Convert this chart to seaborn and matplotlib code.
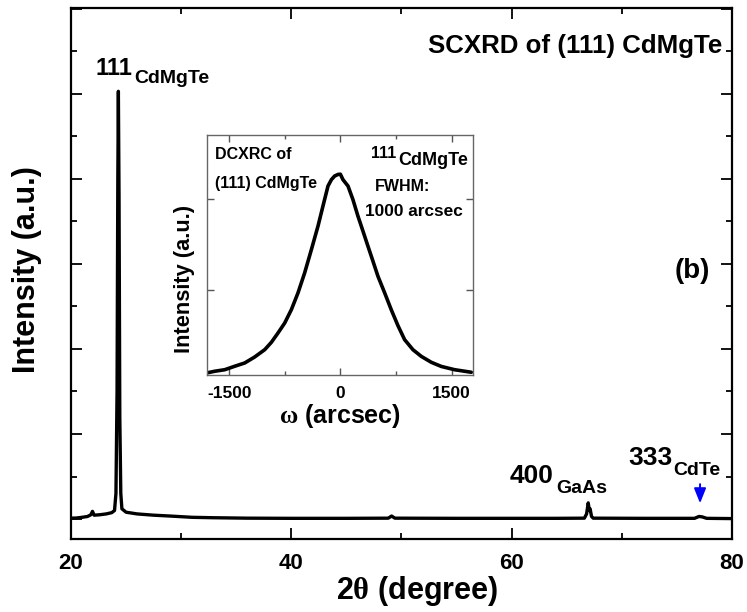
import matplotlib
matplotlib.use("Agg")
import matplotlib.pyplot as plt
import seaborn as sns
import pandas as pd

# Symmetric 2theta scan of the (111) CdMgTe layer (intensity in arbitrary units)
two_theta = [20.0, 20.5, 21.0, 21.5, 21.8, 21.95, 22.1, 22.6, 23.2, 23.7, 23.95,
             24.08, 24.18, 24.25, 24.30, 24.36, 24.43, 24.52, 24.62, 25.0, 26.0,
             27.5, 29.0, 31.0, 33.0, 36.0, 40.0, 45.0, 48.8, 49.1, 49.4, 55.0,
             60.0, 64.0, 66.6, 66.8, 66.95, 67.05, 67.12, 67.25, 67.4, 72.0,
             76.6, 77.0, 77.3, 77.7, 80.0]
intensity = [0.010, 0.012, 0.020, 0.030, 0.050, 0.090, 0.045, 0.050, 0.060, 0.075, 0.10,
             0.30, 1.50, 4.00, 5.03, 3.80, 1.20, 0.30, 0.12, 0.080, 0.060,
             0.045, 0.035, 0.020, 0.015, 0.010, 0.008, 0.008, 0.010, 0.035, 0.010, 0.008,
             0.008, 0.008, 0.010, 0.060, 0.19, 0.10, 0.12, 0.030, 0.010, 0.008,
             0.008, 0.030, 0.025, 0.008, 0.005]

# Double-crystal rocking curve of the 111 reflection
omega = [-1808, -1696, -1561, -1426, -1291, -1156, -1021, -931, -842, -751, -661,
         -572, -482, -391, -302, -235, -167, -121, -77, -32, 0, 35, 103, 170,
         237, 305, 372, 440, 507, 598, 688, 777, 867, 979, 1093, 1228, 1362,
         1542, 1767]
rc_intensity = [0.088, 0.107, 0.124, 0.162, 0.198, 0.264, 0.344, 0.425, 0.527, 0.637, 0.784,
                0.967, 1.187, 1.443, 1.70, 1.92, 2.14, 2.21, 2.25, 2.267, 2.27, 2.21, 2.14, 1.99,
                1.81, 1.645, 1.48, 1.315, 1.15, 0.967, 0.78, 0.608, 0.454, 0.344, 0.27, 0.205, 0.16,
                0.124, 0.096]

scan = pd.DataFrame({"two_theta": two_theta, "intensity": intensity})
rock = pd.DataFrame({"omega": omega, "intensity": rc_intensity})

sns.set_theme(style="ticks")
plt.rcParams["font.family"] = ["Liberation Sans", "DejaVu Sans"]
plt.rcParams["font.weight"] = "bold"
plt.rcParams["text.color"] = "black"
plt.rcParams["axes.labelcolor"] = "black"
plt.rcParams["xtick.color"] = "black"
plt.rcParams["ytick.color"] = "black"
plt.rcParams["axes.unicode_minus"] = False
plt.rcParams["mathtext.fontset"] = "custom"
plt.rcParams["mathtext.rm"] = "Liberation Serif"
plt.rcParams["mathtext.it"] = "Liberation Serif"
plt.rcParams["mathtext.bf"] = "Liberation Serif:bold"

fig = plt.figure(figsize=(7.47, 6.12), dpi=100)
ax = fig.add_axes([71 / 747, 73 / 612, 661 / 747, 531 / 612])

sns.lineplot(data=scan, x="two_theta", y="intensity", ax=ax, color="black",
             linewidth=2.4, estimator=None, sort=False)

ax.set_xlim(20, 80)
ax.set_ylim(-0.235, 6.01)
ax.set_xticks([20, 40, 60, 80])
ax.set_xticks([30, 50, 70], minor=True)
ax.set_yticks([0, 1, 2, 3, 4, 5, 6])
ax.set_yticks([0.5, 1.5, 2.5, 3.5, 4.5, 5.5], minor=True)
ax.set_yticklabels([])
ax.tick_params(which="both", direction="in", top=True, right=True, width=1.3,
               color="black", labelsize=16, pad=10)
ax.tick_params(which="major", length=8)
ax.tick_params(which="minor", length=4.5)
for lab in ax.get_xticklabels():
    lab.set_fontweight("bold")
for sp in ax.spines.values():
    sp.set_linewidth(1.6)
    sp.set_color("black")

ax.set_xlabel(r"2$\theta$ (degree)", fontsize=22, fontweight="bold")
ax.set_ylabel("Intensity (a.u.)", fontsize=22, fontweight="bold")
ax.xaxis.set_label_coords(0.524, -0.066)
ax.yaxis.set_label_coords(-0.044, 0.507)

# Peak labels
ax.text(22.18, 5.22, "111", fontsize=17, fontweight="bold", va="baseline")
ax.text(25.75, 5.126, "CdMgTe", fontsize=14, fontweight="bold", va="baseline")
ax.text(59.85, 0.420, "400", fontsize=19, fontweight="bold", va="baseline")
ax.text(64.09, 0.309, "GaAs", fontsize=14, fontweight="bold", va="baseline")
ax.text(70.59, 0.635, "333", fontsize=19, fontweight="bold", va="baseline")
ax.text(74.67, 0.518, "CdTe", fontsize=14, fontweight="bold", va="baseline")
ax.text(0.985, 0.915, "SCXRD of (111) CdMgTe", transform=ax.transAxes,
        fontsize=18.6, fontweight="bold", ha="right", va="baseline")
ax.text(0.967, 0.4915, "(b)", transform=ax.transAxes, fontsize=20,
        fontweight="bold", ha="right", va="baseline")

# Arrow marking the weak CdTe 333 reflection
ax.annotate("", xy=(77.1, 0.185), xytext=(77.1, 0.41),
            arrowprops=dict(arrowstyle="-|>,head_length=0.75,head_width=0.3",
                            color="#0000ff", lw=1.4, shrinkA=0, shrinkB=0))

# Inset: rocking curve
ins = fig.add_axes([207 / 747, 237 / 612, 266 / 747, 240 / 612])
sns.lineplot(data=rock, x="omega", y="intensity", ax=ins, color="black",
             linewidth=2.6, estimator=None, sort=False)
ins.set_xlim(-1800, 1790)
ins.set_ylim(0.066, 2.70)
ins.set_xticks([-1500, 0, 1500])
ins.set_xticks([-750, 750], minor=True)
ins.set_yticks([1, 2])
ins.set_yticklabels([])
ins.tick_params(which="both", direction="in", top=True, right=True, width=1.0,
                color="#555555", labelsize=12.5, pad=8)
ins.tick_params(which="major", length=5)
ins.tick_params(which="minor", length=3)
for lab in ins.get_xticklabels():
    lab.set_fontweight("bold")
for sp in ins.spines.values():
    sp.set_linewidth(1.0)
    sp.set_color("#666666")
ins.set_xlabel(r"$\omega$ (arcsec)", fontsize=18, fontweight="bold", labelpad=1)
ins.set_ylabel("Intensity (a.u.)", fontsize=15.7, fontweight="bold")
ins.yaxis.set_label_coords(-0.045, 0.4)

ins.text(0.03, 0.9, "DCXRC of", transform=ins.transAxes, fontsize=11.5,
         fontweight="bold", va="baseline")
ins.text(0.03, 0.779, "(111) CdMgTe", transform=ins.transAxes, fontsize=11.5,
         fontweight="bold", va="baseline")
ins.text(0.617, 0.904, "111", transform=ins.transAxes, fontsize=11.5,
         fontweight="bold", va="baseline")
ins.text(0.718, 0.876, "CdMgTe", transform=ins.transAxes, fontsize=13,
         fontweight="bold", va="baseline")
ins.text(0.632, 0.765, "FWHM:", transform=ins.transAxes, fontsize=11.5,
         fontweight="bold", va="baseline")
ins.text(0.594, 0.661, "1000 arcsec", transform=ins.transAxes, fontsize=12.4,
         fontweight="bold", va="baseline")

fig.savefig("out.png", dpi=100)
